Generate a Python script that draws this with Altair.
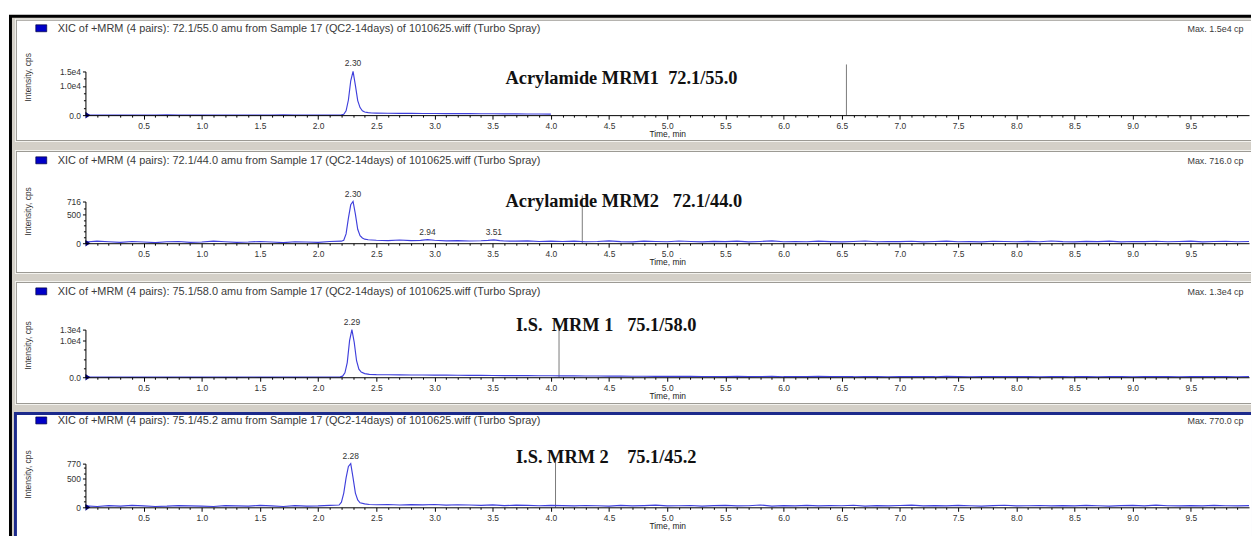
import altair as alt
import pandas as pd

# ---------------- data ----------------
headers = [
    "XIC of +MRM (4 pairs): 72.1/55.0 amu from Sample 17 (QC2-14days) of 1010625.wiff (Turbo Spray)",
    "XIC of +MRM (4 pairs): 72.1/44.0 amu from Sample 17 (QC2-14days) of 1010625.wiff (Turbo Spray)",
    "XIC of +MRM (4 pairs): 75.1/58.0 amu from Sample 17 (QC2-14days) of 1010625.wiff (Turbo Spray)",
    "XIC of +MRM (4 pairs): 75.1/45.2 amu from Sample 17 (QC2-14days) of 1010625.wiff (Turbo Spray)",
]
max_texts = ["Max. 1.5e4 cp", "Max. 716.0 cp", "Max. 1.3e4 cp", "Max. 770.0 cp"]
annot_texts = [
    "Acrylamide MRM1\u00a0\u00a072.1/55.0",
    "Acrylamide MRM2\u00a0\u00a0\u00a072.1/44.0",
    "I.S.\u00a0\u00a0MRM 1\u00a0\u00a0\u00a075.1/58.0",
    "I.S. MRM 2\u00a0\u00a0\u00a0\u00a075.1/45.2",
]
annot_x = [3.61, 3.61, 3.70, 3.70]
annot_y = [12600, 730, 14350, 892]
cursor_t = [6.54, 4.27, 4.07, 4.04]
cursor_top = [17400, 818, 13000, 822]

y_max = [15000, 716, 13000, 770]
y_tick_values = [[0, 10000, 15000], [0, 500, 716], [0, 10000, 13000], [0, 500, 770]]
y_tick_labels = [["0.0", "1.0e4", "1.5e4"], ["0", "500", "716"],
                 ["0.0", "1.0e4", "1.3e4"], ["0", "500", "770"]]
y_minor_values = [[2500, 5000, 7500, 12500], [100, 200, 300, 400, 600],
                  [2500, 5000, 7500], [100, 200, 300, 400, 600, 700]]
x_tick_values = [0.5, 1.0, 1.5, 2.0, 2.5, 3.0, 3.5, 4.0, 4.5, 5.0,
                 5.5, 6.0, 6.5, 7.0, 7.5, 8.0, 8.5, 9.0, 9.5]
x_tick_labels = ["0.5", "1.0", "1.5", "2.0", "2.5", "3.0", "3.5", "4.0", "4.5", "5.0",
                 "5.5", "6.0", "6.5", "7.0", "7.5", "8.0", "8.5", "9.0", "9.5"]
x_minor_values = [round(0.1 * i, 1) for i in range(1, 100) if i % 5]

peak_t = [[2.30], [2.30, 2.94, 3.51], [2.29], [2.28]]
peak_v = [[15000], [716, 62, 58], [13000], [770]]
peak_lbl = [["2.30"], ["2.30", "2.94", "3.51"], ["2.29"], ["2.28"]]

# trace 1 : 72.1/55.0
time_1 = [0.0, 0.1, 0.2, 0.3, 0.4, 0.5, 0.6, 0.7, 0.8, 0.9, 1.0, 1.1, 1.2, 1.3, 1.4, 1.5,
          1.6, 1.7, 1.8, 1.9, 2.0, 2.1, 2.2,
          2.22, 2.24, 2.26, 2.28, 2.30, 2.32, 2.34, 2.36, 2.38, 2.40, 2.43, 2.46,
          2.5, 2.6, 2.7, 2.8, 2.9, 3.0, 3.1, 3.2, 3.3, 3.4, 3.5, 3.6, 3.7, 3.8, 3.9, 4.0]
inten_1 = [60, 40, 50, 30, 60, 40, 50, 70, 40, 50, 30, 60, 50, 40, 60, 50,
           40, 70, 50, 40, 60, 50, 80,
           300, 1500, 5200, 11800, 15000, 10200, 5000, 2600, 1500, 1100, 850, 750,
           700, 650, 620, 600, 580, 560, 540, 520, 500, 480, 470, 450, 430, 400, 380, 350]

# trace 2 : 72.1/44.0
time_2 = [0.0, 0.1, 0.2, 0.3, 0.4, 0.5, 0.6, 0.7, 0.8, 0.9, 1.0, 1.1, 1.2, 1.3, 1.4, 1.5,
          1.6, 1.7, 1.8, 1.9, 2.0, 2.1, 2.2,
          2.22, 2.24, 2.26, 2.28, 2.30, 2.32, 2.34, 2.36, 2.38, 2.40, 2.43, 2.46,
          2.5, 2.6, 2.7, 2.8, 2.88, 2.94, 3.0, 3.1, 3.2, 3.3, 3.4, 3.46, 3.51, 3.56, 3.6,
          3.7, 3.8, 3.9, 4.0,
          4.1, 4.2, 4.3, 4.4, 4.5, 4.6, 4.7, 4.8, 4.9, 5.0,
          5.1, 5.2, 5.3, 5.4, 5.5, 5.6, 5.7, 5.8, 5.9, 6.0,
          6.1, 6.2, 6.3, 6.4, 6.5, 6.6, 6.7, 6.8, 6.9, 7.0,
          7.1, 7.2, 7.3, 7.4, 7.5, 7.6, 7.7, 7.8, 7.9, 8.0,
          8.1, 8.2, 8.3, 8.4, 8.5, 8.6, 8.7, 8.8, 8.9, 9.0,
          9.1, 9.2, 9.3, 9.4, 9.5, 9.6, 9.7, 9.8, 9.9, 10.0]
inten_2 = [20, 35, 25, 15, 30, 20, 10, 25, 30, 15, 20, 35, 25, 15, 20, 30,
           20, 10, 25, 20, 15, 30, 35,
           50, 160, 430, 660, 716, 500, 240, 130, 90, 70, 60, 55,
           50, 45, 55, 45, 48, 62, 50, 40, 45, 38, 42, 48, 58, 45, 38,
           35, 40, 30, 35,
           30, 35, 25, 30, 40, 28, 22, 35, 30, 25,
           38, 30, 24, 32, 28, 35, 22, 30, 40, 26,
           30, 25, 35, 28, 22, 30, 38, 25, 30, 27,
           33, 24, 30, 36, 25, 28, 22, 34, 30, 26,
           31, 25, 38, 28, 24, 32, 27, 35, 22, 30,
           28, 34, 25, 30, 36, 24, 29, 33, 26, 30]

# trace 3 : 75.1/58.0
time_3 = [0.0, 0.1, 0.2, 0.3, 0.4, 0.5, 0.6, 0.7, 0.8, 0.9, 1.0, 1.1, 1.2, 1.3, 1.4, 1.5,
          1.6, 1.7, 1.8, 1.9, 2.0, 2.1,
          2.19, 2.21, 2.23, 2.25, 2.27, 2.29, 2.31, 2.33, 2.35, 2.37, 2.40, 2.44,
          2.5, 2.6, 2.7, 2.8, 2.9, 3.0, 3.1, 3.2, 3.3, 3.4,
          3.5, 3.6, 3.7, 3.8, 3.9, 4.0, 4.1, 4.2, 4.3, 4.4,
          4.5, 4.6, 4.7, 4.8, 4.9, 5.0, 5.1, 5.2, 5.3, 5.4,
          5.5, 5.6, 5.7, 5.8, 5.9, 6.0, 6.1, 6.2, 6.3, 6.4,
          6.5, 6.6, 6.7, 6.8, 6.9, 7.0, 7.1, 7.2, 7.3, 7.4,
          7.5, 7.6, 7.7, 7.8, 7.9, 8.0, 8.1, 8.2, 8.3, 8.4,
          8.5, 8.6, 8.7, 8.8, 8.9, 9.0, 9.1, 9.2, 9.3, 9.4,
          9.5, 9.6, 9.7, 9.8, 9.9, 10.0]
inten_3 = [50, 60, 40, 70, 50, 40, 60, 50, 70, 40, 50, 60, 40, 50, 70, 50,
           40, 60, 50, 70, 60, 80,
           100, 300, 1200, 4000, 10000, 13000, 9500, 4500, 2200, 1400, 1000, 800,
           720, 680, 650, 620, 600, 580, 560, 540, 520, 500,
           480, 460, 450, 430, 420, 400, 380, 370, 350, 330,
           310, 300, 280, 260, 250, 240, 230, 220, 200, 210,
           180, 220, 160, 190, 240, 150, 200, 170, 230, 160,
           190, 150, 210, 170, 140, 200, 160, 180, 150, 220,
           170, 140, 190, 160, 200, 150, 180, 130, 170, 210,
           150, 180, 140, 200, 160, 130, 190, 150, 170, 140,
           180, 150, 160, 200, 140, 170]

# trace 4 : 75.1/45.2
time_4 = [0.0, 0.1, 0.2, 0.3, 0.4, 0.5, 0.6, 0.7, 0.8, 0.9, 1.0, 1.1, 1.2, 1.3, 1.4, 1.5,
          1.6, 1.7, 1.8, 1.9, 2.0, 2.1,
          2.18, 2.20, 2.22, 2.24, 2.26, 2.28, 2.30, 2.32, 2.34, 2.36, 2.40, 2.44,
          2.5, 2.6, 2.7, 2.8, 2.9, 3.0, 3.1, 3.2, 3.3, 3.4,
          3.5, 3.6, 3.7, 3.8, 3.9, 4.0, 4.1, 4.2, 4.3, 4.4,
          4.5, 4.6, 4.7, 4.8, 4.9, 5.0, 5.1, 5.2, 5.3, 5.4,
          5.5, 5.6, 5.7, 5.8, 5.9, 6.0, 6.1, 6.2, 6.3, 6.4,
          6.5, 6.6, 6.7, 6.8, 6.9, 7.0, 7.1, 7.2, 7.3, 7.4,
          7.5, 7.6, 7.7, 7.8, 7.9, 8.0, 8.1, 8.2, 8.3, 8.4,
          8.5, 8.6, 8.7, 8.8, 8.9, 9.0, 9.1, 9.2, 9.3, 9.4,
          9.5, 9.6, 9.7, 9.8, 9.9, 10.0]
inten_4 = [25, 15, 30, 20, 35, 25, 15, 20, 30, 25, 20, 15, 30, 25, 20, 35,
           25, 15, 30, 20, 25, 35,
           40, 90, 250, 520, 720, 770, 520, 250, 130, 80, 60, 50,
           45, 50, 40, 48, 42, 50, 38, 45, 40, 35,
           42, 30, 38, 33, 28, 35, 30, 25, 32, 28,
           22, 35, 26, 30, 38, 24, 28, 32, 20, 30,
           35, 25, 28, 40, 22, 30, 26, 34, 24, 30,
           28, 36, 22, 30, 25, 32, 38, 26, 30, 24,
           34, 28, 22, 30, 36, 25, 28, 32, 24, 30,
           26, 35, 28, 22, 30, 34, 25, 38, 28, 24,
           30, 26, 33, 28, 24, 30]

times = [time_1, time_2, time_3, time_4]
intens = [inten_1, inten_2, inten_3, inten_4]

# ---------------- layout / style ----------------
SANS = "Liberation Sans"
SERIF = "Liberation Serif"
TRACE = "#3f3fdc"
X0 = 86            # page x of plot left edge
XMAX = 10.0
W = 1172
RIGHT = 1260
BOTTOM = 538
SPACING = 87
tops = [70, 201, 330, 465]
heights = [44, 42, 48, 44]
header_y = [27, 160, 292, 422]
ytitle_y = [76, 211, 346, 476]
white_y = [(19, 139), (151, 272), (283, 404), (416, BOTTOM)]

ONE = pd.DataFrame({"k": [0]})


def px_rect(xa, xb, ya, yb, T, fill, stroke=None, sw=0):
    kw = dict(fill=fill)
    if stroke:
        kw.update(stroke=stroke, strokeWidth=sw)
    return alt.Chart(ONE).mark_rect(**kw).encode(
        x=alt.value(xa - X0), x2=alt.value(xb - X0),
        y=alt.value(ya - T), y2=alt.value(yb - T))


def px_text(txt, px, py, T, **kw):
    return alt.Chart(pd.DataFrame({"s": [txt]})).mark_text(**kw).encode(
        x=alt.value(px - X0), y=alt.value(py - T), text="s:N")


def label_expr(vals, labels):
    return "".join(f"datum.value == {v} ? '{l}' : " for v, l in zip(vals, labels)) + "''"


xexpr = label_expr(x_tick_values, x_tick_labels)


def panel(k):
    T = tops[k]
    xs = alt.Scale(domain=[0, XMAX], nice=False, zero=False)
    ys = alt.Scale(domain=[0, y_max[k]], nice=False, zero=True)
    layers = []
    if k == 0:
        layers.append(px_rect(9, RIGHT, 13, BOTTOM, T, "#000000"))
        layers.append(px_rect(12, RIGHT, 16, BOTTOM, T, "#d4d0c8"))
    wy0, wy1 = white_y[k]
    if k == 3:
        layers.append(px_rect(14, RIGHT, wy0 - 3, wy1, T, "#1c2a8c"))
        layers.append(px_rect(17, RIGHT, wy0, wy1, T, "#ffffff"))
    else:
        layers.append(px_rect(15, RIGHT, wy0 - 2, wy1 + 2, T, "#f4f3ef"))
        layers.append(px_rect(16, RIGHT, wy0 - 1, wy1 + 1, T, "#9c9a94"))
        layers.append(px_rect(17, RIGHT, wy0, wy1, T, "#ffffff"))

    df = pd.DataFrame({"t": times[k], "v": intens[k]})

    # cursor line
    cur = pd.DataFrame({"t": [cursor_t[k]], "v0": [0], "v1": [cursor_top[k]]})
    layers.append(alt.Chart(cur).mark_rule(color="#7a7a7a", strokeWidth=1).encode(
        x=alt.X("t:Q", scale=xs, axis=None),
        y=alt.Y("v0:Q", scale=ys, axis=None), y2="v1:Q"))

    # trace with main axes
    layers.append(alt.Chart(df).mark_line(color=TRACE, strokeWidth=1.15).encode(
        x=alt.X("t:Q", scale=xs, axis=alt.Axis(
            values=x_tick_values, labelExpr=xexpr, title="Time, min",
            titleFont=SANS, titleFontSize=8.5, titleFontWeight="normal", titleColor="#222",
            titlePadding=0, labelFont=SANS, labelFontSize=8.5, labelColor="#333",
            labelPadding=2, tickSize=4, tickColor="#000", domainColor="#000",
            domainWidth=1, grid=False, zindex=1, labelFlush=False, orient="bottom")),
        y=alt.Y("v:Q", scale=ys, axis=alt.Axis(
            values=y_tick_values[k], labelExpr=label_expr(y_tick_values[k], y_tick_labels[k]),
            title=None, labelFont=SANS, labelFontSize=8.5, labelColor="#333",
            labelPadding=2, tickSize=3, tickColor="#000", domainColor="#000",
            domainWidth=1, grid=False, zindex=1, orient="left"))))

    # minor ticks
    layers.append(alt.Chart(df).mark_point(opacity=0).encode(
        x=alt.X("t:Q", scale=xs, axis=alt.Axis(
            values=x_minor_values, labels=False, tickSize=2, tickColor="#000",
            domain=False, title=None, grid=False, zindex=1, orient="bottom")),
        y=alt.Y("v:Q", scale=ys, axis=alt.Axis(
            values=y_minor_values[k], labels=False, tickSize=2, tickColor="#000",
            domain=False, title=None, grid=False, zindex=1, orient="left"))))

    # origin marker
    org = pd.DataFrame({"t": [0.0], "v": [0]})
    layers.append(alt.Chart(org).mark_point(
        shape="M0,-1L1.5,0L0,1Z", filled=True, color="#000080", size=45, opacity=1).encode(
        x=alt.X("t:Q", scale=xs, axis=None), y=alt.Y("v:Q", scale=ys, axis=None)))

    # peak labels
    pk = pd.DataFrame({"t": peak_t[k], "v": peak_v[k], "s": peak_lbl[k]})
    layers.append(alt.Chart(pk).mark_text(
        font=SANS, fontSize=8.5, color="#333", baseline="bottom", dy=-3).encode(
        x=alt.X("t:Q", scale=xs, axis=None), y=alt.Y("v:Q", scale=ys, axis=None), text="s:N"))

    # annotation
    an = pd.DataFrame({"t": [annot_x[k]], "v": [annot_y[k]], "s": [annot_texts[k]]})
    layers.append(alt.Chart(an).mark_text(
        font=SERIF, fontSize=18.5, fontWeight="bold", color="#111", align="left",
        baseline="middle").encode(
        x=alt.X("t:Q", scale=xs, axis=None), y=alt.Y("v:Q", scale=ys, axis=None), text="s:N"))

    # header
    layers.append(px_rect(36, 47, header_y[k] - 4, header_y[k] + 3, T, "#0000c8", "#000040", 0.7))
    layers.append(px_text(headers[k], 58, header_y[k], T, font=SANS, fontSize=11,
                          color="#3a3a3a", align="left", baseline="middle"))
    layers.append(px_text(max_texts[k], 1196, header_y[k], T, font=SANS, fontSize=9,
                          color="#3a3a3a", align="left", baseline="middle"))
    # y title
    layers.append(px_text("Intensity, cps", 28, ytitle_y[k], T, font=SANS, fontSize=8.5,
                          color="#333", angle=270, align="center", baseline="middle"))

    return alt.layer(*layers).resolve_axis(x="independent", y="independent").properties(
        width=W, height=heights[k])


chart = alt.vconcat(*[panel(k) for k in range(4)], spacing=SPACING, bounds="flush").properties(
    padding={"left": 1, "top": 5, "right": 0, "bottom": 0}, background="white"
).configure_view(strokeWidth=0)

chart.save("out.html", embed_options={"renderer": "svg", "actions": False})
